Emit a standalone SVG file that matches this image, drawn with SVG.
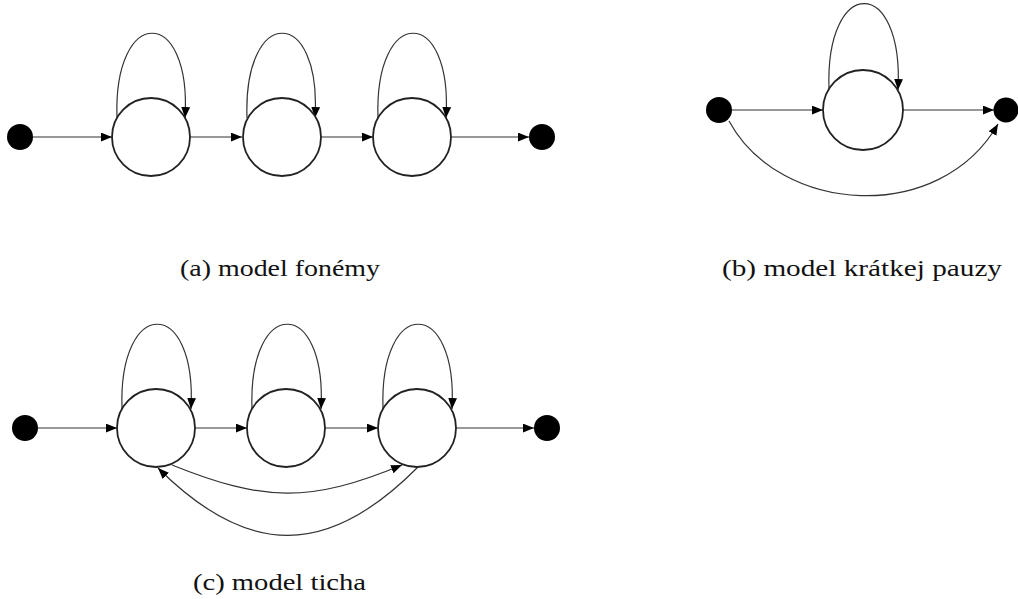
<svg xmlns="http://www.w3.org/2000/svg" width="1018" height="599" viewBox="0 0 1018 599">
<style>
.state{fill:#fff;stroke:#222;stroke-width:1.8}
.term{fill:#000;stroke:none}
.edge{fill:none;stroke:#333;stroke-width:1.2;marker-end:url(#ah)}
.cap{font-family:"Liberation Serif","DejaVu Serif",serif;font-size:24px;fill:#111}
</style>
<defs>
<marker id="ah" markerUnits="userSpaceOnUse" markerWidth="11" markerHeight="9" refX="10" refY="4" orient="auto" viewBox="0 0 10 8">
<path d="M0,0 L10,4 L0,8 z" fill="#000"/>
</marker>
</defs>
<rect width="1018" height="599" fill="#fff"/>
<g id="connectors">
<!-- (a) -->
<path class="edge" d="M33,137 L112,137"/>
<path class="edge" d="M190,137 L242,137"/>
<path class="edge" d="M321,137 L373,137"/>
<path class="edge" d="M451,137 L529,137"/>
<path class="edge" d="M117,118 C113,5 192,5 185,118"/>
<path class="edge" d="M247,118 C243,5 322,5 315,118"/>
<path class="edge" d="M378,118 C374,5 453,5 446,118"/>
<!-- (b) -->
<path class="edge" d="M732,110 L823,110"/>
<path class="edge" d="M903,110 L994,110"/>
<path class="edge" d="M829,89 C825,-25 904,-25 898,90"/>
<path class="edge" d="M729,121 C780,215 940,225 998,124"/>
<!-- (c) -->
<path class="edge" d="M38,428 L117,428"/>
<path class="edge" d="M195,428 L247,428"/>
<path class="edge" d="M325,428 L378,428"/>
<path class="edge" d="M456,428 L534,428"/>
<path class="edge" d="M122,409 C118,296 197,296 191,409"/>
<path class="edge" d="M252,409 C248,296 327,296 321,409"/>
<path class="edge" d="M383,409 C379,296 458,296 452,409"/>
<path class="edge" d="M172,465 C264,502 310,503 402,465"/>
<path class="edge" d="M418,467 C328,558 248,558 158,468"/>
</g>
<g id="a-start"><circle class="term" cx="20" cy="137" r="13"/></g>
<g id="a-s1"><circle class="state" cx="151" cy="137" r="39"/></g>
<g id="a-s2"><circle class="state" cx="282" cy="137" r="39"/></g>
<g id="a-s3"><circle class="state" cx="412" cy="137" r="39"/></g>
<g id="a-end"><circle class="term" cx="542" cy="137" r="13"/></g>
<g id="b-start"><circle class="term" cx="719" cy="110" r="13"/></g>
<g id="b-s1"><circle class="state" cx="863" cy="110" r="40"/></g>
<g id="b-end"><circle class="term" cx="1006" cy="110" r="12.5"/></g>
<g id="c-start"><circle class="term" cx="25" cy="428" r="13"/></g>
<g id="c-s1"><circle class="state" cx="156" cy="428" r="39"/></g>
<g id="c-s2"><circle class="state" cx="286" cy="428" r="39"/></g>
<g id="c-s3"><circle class="state" cx="417" cy="428" r="39"/></g>
<g id="c-end"><circle class="term" cx="547" cy="428" r="13"/></g>
<g id="captions">
<text class="cap" x="180" y="276" textLength="200" lengthAdjust="spacingAndGlyphs">(a) model fonémy</text>
<text class="cap" x="722" y="276" textLength="280" lengthAdjust="spacingAndGlyphs">(b) model krátkej pauzy</text>
<text class="cap" x="193" y="590" textLength="173" lengthAdjust="spacingAndGlyphs">(c) model ticha</text>
</g>
</svg>
